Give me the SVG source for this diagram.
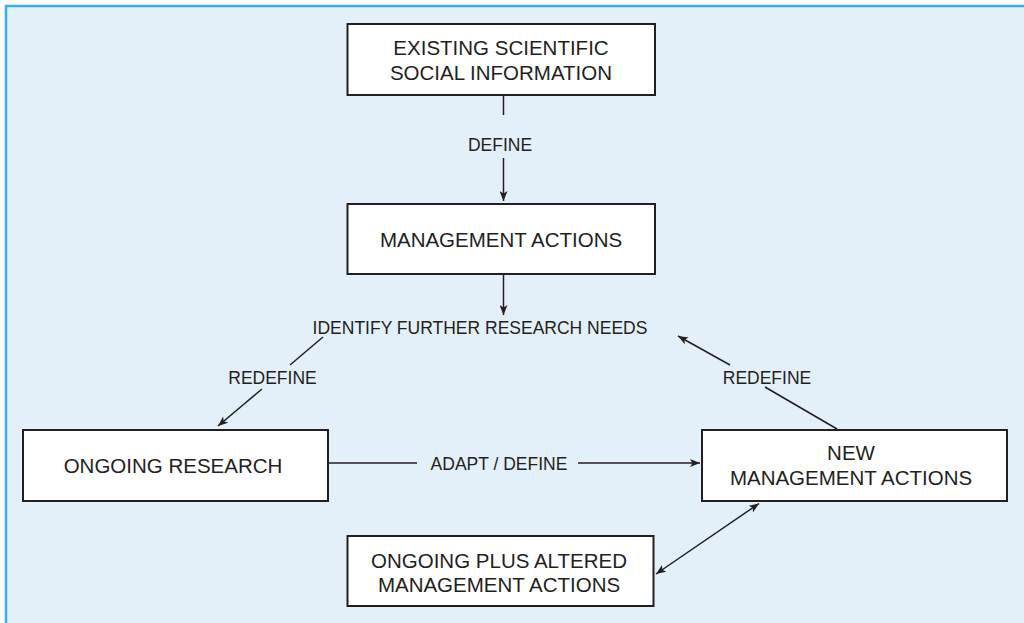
<svg xmlns="http://www.w3.org/2000/svg" width="1024" height="623" viewBox="0 0 1024 623">
<style>
.box{fill:#ffffff;stroke:#231f20;stroke-width:2}
.bt{font-family:"Liberation Sans",Arial,sans-serif;font-size:20.5px;fill:#231f20;text-anchor:middle}
.lb{font-family:"Liberation Sans",Arial,sans-serif;font-size:17.5px;fill:#231f20;text-anchor:middle}
.ln{fill:none;stroke:#231f20;stroke-width:1.5}
</style>
<defs>
<marker id="ah" viewBox="0 0 10 8" refX="10" refY="4" markerWidth="10" markerHeight="8" markerUnits="userSpaceOnUse" orient="auto-start-reverse">
<path d="M0,0 L10,4 L0,8 L2.5,4 z" fill="#231f20"/>
</marker>
</defs>
<rect x="0" y="0" width="1024" height="623" fill="#ffffff"/>
<rect x="6" y="6" width="1018" height="617" fill="#e3f0f9"/>
<path d="M6,623 L6,6 L1024,6" fill="none" stroke="#2cb4ea" stroke-width="2.5"/>

<g id="connectors">
<line class="ln" x1="503.5" y1="95" x2="503.5" y2="115"/>
<line class="ln" x1="503.5" y1="158" x2="503.5" y2="201" marker-end="url(#ah)"/>
<line class="ln" x1="503.5" y1="274" x2="503.5" y2="315" marker-end="url(#ah)"/>
<line class="ln" x1="323" y1="337" x2="290" y2="365"/>
<line class="ln" x1="262" y1="389" x2="218" y2="426" marker-end="url(#ah)"/>
<line class="ln" x1="837" y1="429" x2="765" y2="387"/>
<line class="ln" x1="730" y1="365" x2="678" y2="336" marker-end="url(#ah)"/>
<line class="ln" x1="328" y1="463" x2="417" y2="463"/>
<line class="ln" x1="578" y1="463" x2="700" y2="463" marker-end="url(#ah)"/>
<line class="ln" x1="656" y1="574" x2="759" y2="503.5" marker-start="url(#ah)" marker-end="url(#ah)"/>
<text class="lb" x="500" y="151">DEFINE</text>
<text class="lb" x="480" y="334">IDENTIFY FURTHER RESEARCH NEEDS</text>
<text class="lb" x="272.5" y="384">REDEFINE</text>
<text class="lb" x="767" y="384">REDEFINE</text>
<text class="lb" x="499" y="469.5">ADAPT / DEFINE</text>
</g>

<g id="existing">
<rect class="box" x="347.5" y="24" width="307.5" height="71"/>
<text class="bt" x="501" y="55">EXISTING SCIENTIFIC</text>
<text class="bt" x="501" y="80">SOCIAL INFORMATION</text>
</g>
<g id="management">
<rect class="box" x="347.5" y="204" width="307.5" height="70"/>
<text class="bt" x="501" y="246.5">MANAGEMENT ACTIONS</text>
</g>
<g id="ongoing-research">
<rect class="box" x="23" y="430" width="305" height="71"/>
<text class="bt" x="173" y="473">ONGOING RESEARCH</text>
</g>
<g id="new-management">
<rect class="box" x="702" y="430" width="305" height="71"/>
<text class="bt" x="851" y="460">NEW</text>
<text class="bt" x="851" y="485">MANAGEMENT ACTIONS</text>
</g>
<g id="ongoing-altered">
<rect class="box" x="347.5" y="536" width="306" height="70"/>
<text class="bt" x="499" y="568">ONGOING PLUS ALTERED</text>
<text class="bt" x="499" y="592">MANAGEMENT ACTIONS</text>
</g>
</svg>
